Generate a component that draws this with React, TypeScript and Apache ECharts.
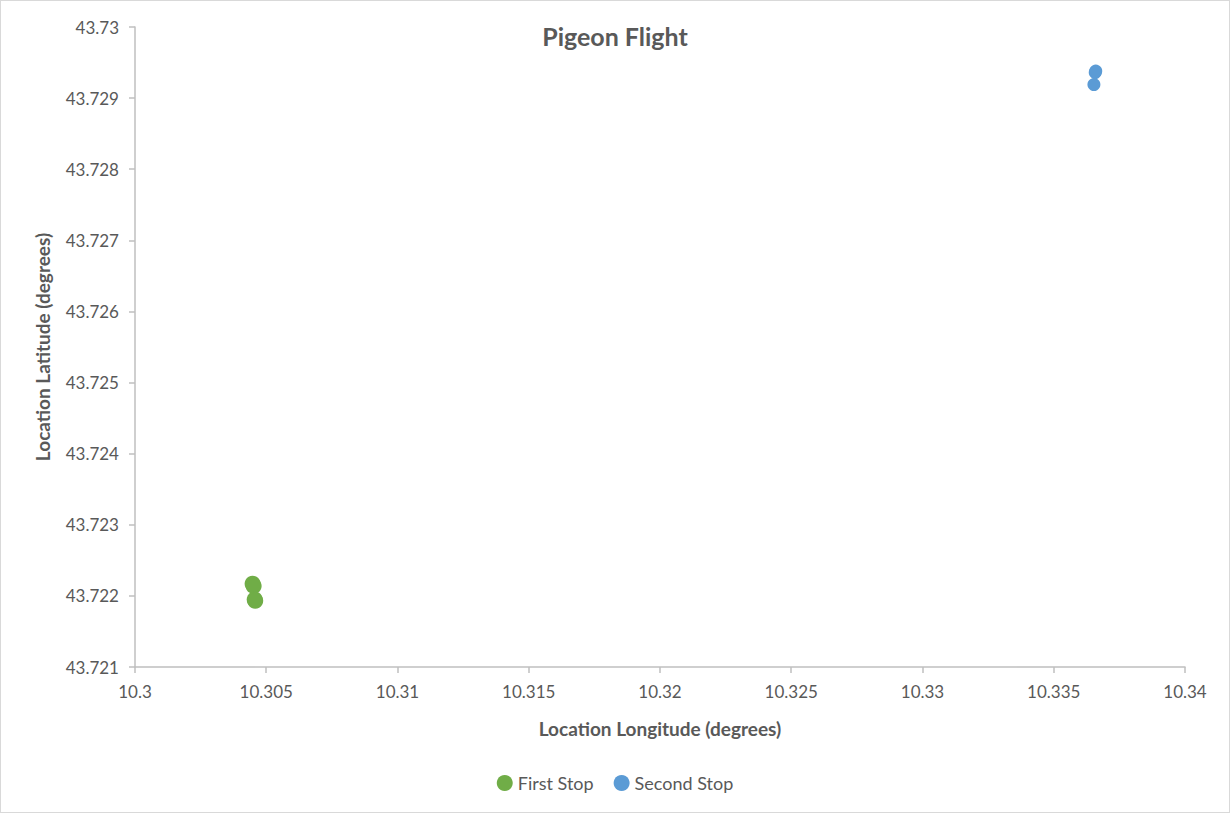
import { useEffect, useRef } from "react";
import * as echarts from "echarts";

const firstStop: [number, number][] = [
  [10.30448, 43.72217],
  [10.30452, 43.72214],
  [10.30456, 43.72195],
  [10.30458, 43.72193],
];

const secondStop: [number, number][] = [
  [10.33658, 43.72936],
  [10.3366, 43.72938],
  [10.33653, 43.72919],
];

const FONT = "Lato, 'Open Sans', sans-serif";
const TEXT = "#595959";
const AXIS = "#bfbfbf";

export default function App() {
  const ref = useRef<HTMLDivElement | null>(null);

  useEffect(() => {
    const el = ref.current;
    if (!el) return;
    document.body.style.margin = "0";
    const chart = echarts.init(el, null, { renderer: "svg" });

    chart.setOption({
      animation: false,
      backgroundColor: "#ffffff",
      title: {
        text: "Pigeon Flight",
        left: "center",
        top: 17,
        textStyle: { fontFamily: FONT, fontSize: 25, fontWeight: "bold", color: TEXT },
      },
      legend: {
        bottom: 15,
        left: "center",
        itemGap: 20,
        itemWidth: 16,
        itemHeight: 16,
        textStyle: { fontFamily: FONT, fontSize: 18, color: TEXT },
        data: [
          { name: "First Stop", icon: "circle" },
          { name: "Second Stop", icon: "circle" },
        ],
      },
      grid: { left: 134, right: 44, top: 26, bottom: 145 },
      xAxis: {
        type: "value",
        min: 10.3,
        max: 10.34,
        interval: 0.005,
        name: "Location Longitude (degrees)",
        nameLocation: "middle",
        nameGap: 52,
        nameTextStyle: { fontFamily: FONT, fontSize: 19, fontWeight: "bold", color: TEXT },
        axisLine: { lineStyle: { color: AXIS, width: 1.5 } },
        axisTick: { show: true, length: 6, lineStyle: { color: AXIS, width: 1.5 } },
        axisLabel: { fontFamily: FONT, fontSize: 17, color: TEXT, margin: 16 },
        splitLine: { show: false },
      },
      yAxis: {
        type: "value",
        min: 43.721,
        max: 43.73,
        interval: 0.001,
        name: "Location Latitude (degrees)",
        nameLocation: "middle",
        nameGap: 83,
        nameTextStyle: { fontFamily: FONT, fontSize: 19, fontWeight: "bold", color: TEXT },
        axisLine: { show: true, lineStyle: { color: AXIS, width: 1.5 } },
        axisTick: { show: true, length: 6, lineStyle: { color: AXIS, width: 1.5 } },
        axisLabel: { fontFamily: FONT, fontSize: 17, color: TEXT, margin: 16 },
        splitLine: { show: false },
      },
      series: [
        {
          name: "First Stop",
          type: "scatter",
          data: firstStop,
          symbolSize: 16,
          itemStyle: { color: "#70ad47", opacity: 1 },
        },
        {
          name: "Second Stop",
          type: "scatter",
          data: secondStop,
          symbolSize: 13,
          itemStyle: { color: "#5b9bd5", opacity: 1 },
        },
      ],
    });

    return () => chart.dispose();
  }, []);

  return (
    <div
      ref={ref}
      style={{
        position: "absolute",
        left: 0,
        top: 0,
        width: 1230,
        height: 813,
        boxSizing: "border-box",
        border: "1px solid #d9d9d9",
      }}
    />
  );
}
